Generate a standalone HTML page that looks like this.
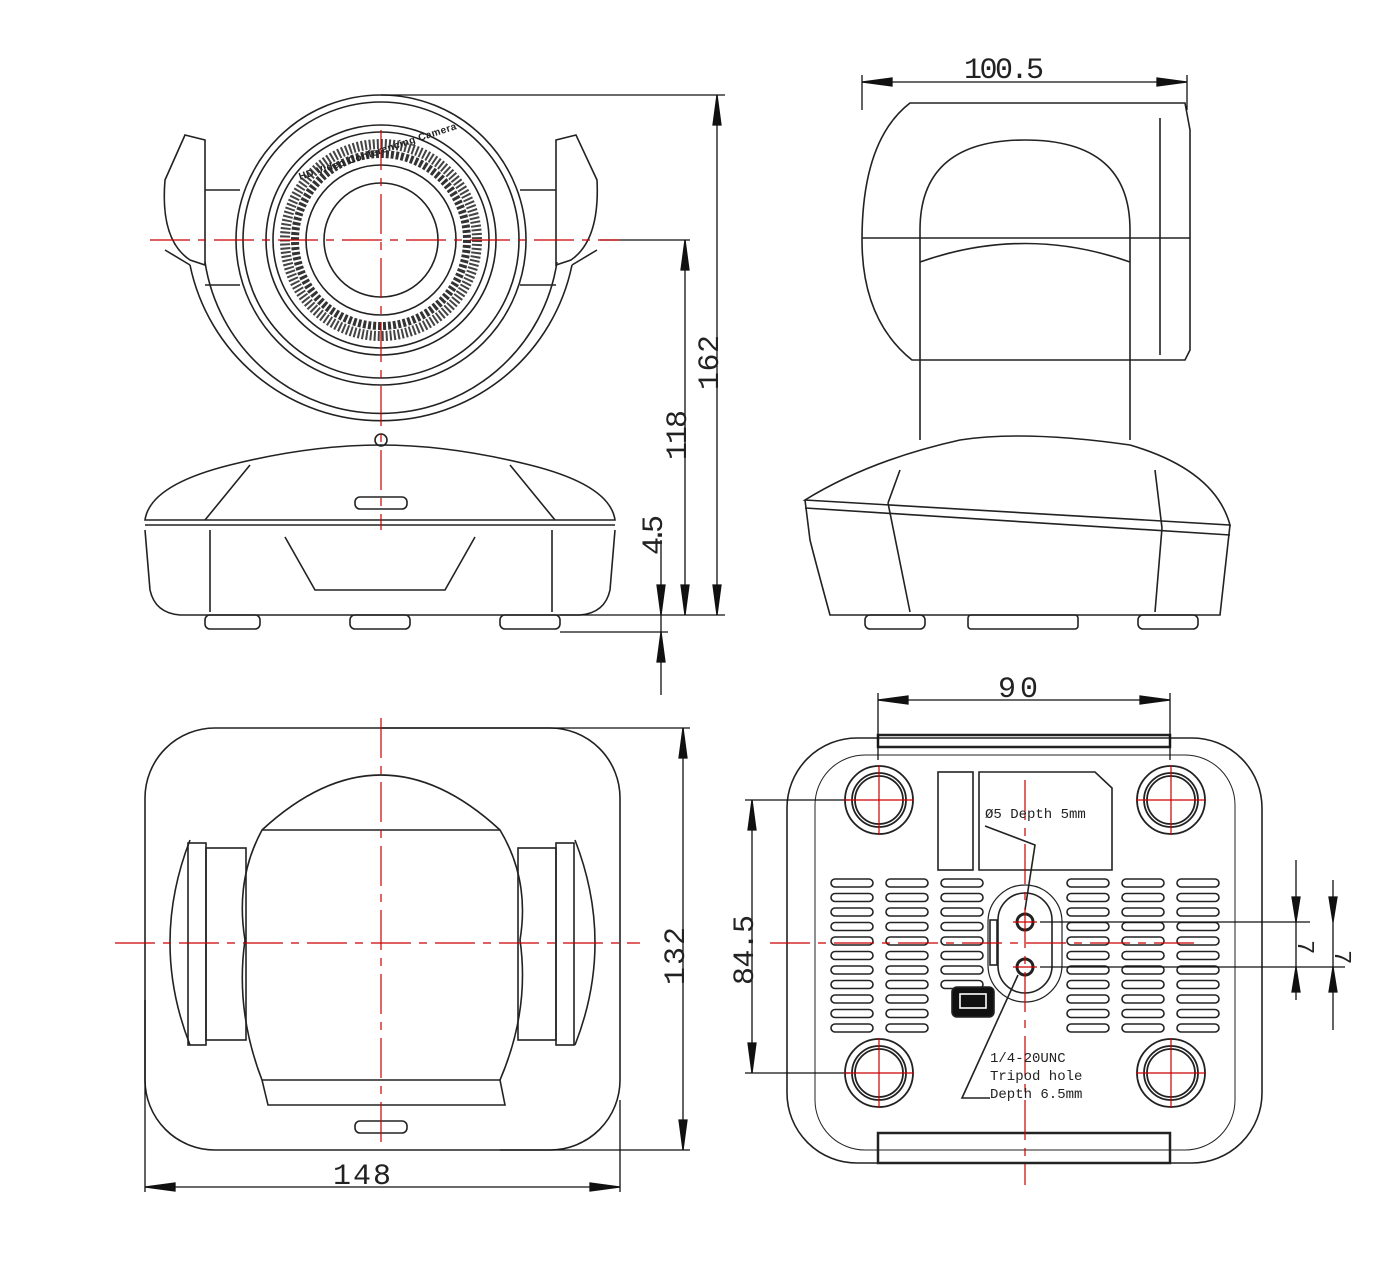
<!DOCTYPE html>
<html><head><meta charset="utf-8"><style>html,body{margin:0;padding:0;background:#fff}svg{display:block}</style></head><body>
<svg width="1376" height="1263" viewBox="0 0 1376 1263" xmlns="http://www.w3.org/2000/svg" font-family="Liberation Mono, monospace">
<defs>
<pattern id="slots" x="0" y="877" width="100" height="14.5" patternUnits="userSpaceOnUse">
<rect x="1" y="2" width="42" height="8" rx="4" fill="none" stroke="#222" stroke-width="1.6"/>
</pattern>
</defs>
<g fill="none" stroke="#222" stroke-width="1.6">
<!-- FRONT VIEW -->
<circle cx="381" cy="240" r="145"/>
<circle cx="381" cy="240" r="138"/>
<circle cx="381" cy="240" r="115"/>
<circle cx="381" cy="240" r="108"/>
<circle cx="381" cy="240" r="96" stroke="#444" stroke-width="10" stroke-dasharray="2 2"/>
<circle cx="381" cy="240" r="86" stroke="#333" stroke-width="8" stroke-dasharray="3 2"/>
<circle cx="381" cy="240" r="75"/>
<circle cx="381" cy="240" r="57"/>
<path d="M190 265 A195 195 0 0 0 572 265"/>
<path d="M205 262 A178 178 0 0 0 557 262"/>
<path d="M185 135 L205 140 L205 265 L190 260 Q160 240 165 180 Z"/>
<path d="M576 135 L556 140 L556 265 L571 260 Q600 240 597 180 Z"/>
<path d="M165 250 L190 265 M597 250 L572 265"/>
<line x1="205" y1="190" x2="240" y2="190"/><line x1="520" y1="190" x2="556" y2="190"/>
<line x1="205" y1="285" x2="240" y2="285"/><line x1="520" y1="285" x2="556" y2="285"/>
<circle cx="381" cy="440" r="6"/>
<path d="M145 520 Q150 485 230 465 Q310 445 381 445 Q450 445 530 465 Q610 485 615 520 Z"/>
<line x1="145" y1="525" x2="615" y2="525"/>
<path d="M205 520 L250 465 M555 520 L510 465"/>
<rect x="355" y="497" width="52" height="12" rx="5"/>
<path d="M145 530 L150 590 Q155 613 180 615 L580 615 Q605 613 610 590 L615 530"/>
<path d="M210 530 L210 612 M552 530 L552 612"/>
<path d="M285 537 L315 590 L445 590 L475 537"/>
<rect x="205" y="615" width="55" height="14" rx="5"/><rect x="350" y="615" width="60" height="14" rx="5"/><rect x="500" y="615" width="60" height="14" rx="5"/>
<!-- SIDE VIEW -->
<path d="M910 103 L1185 103 L1190 130 L1190 350 L1185 360 L912 360 Q862 320 862 240 Q862 140 910 103 Z"/>
<line x1="862" y1="238" x2="1190" y2="238"/>
<line x1="1160" y1="118" x2="1160" y2="355"/>
<path d="M920 440 L920 230 Q920 140 1025 140 Q1130 140 1130 230 L1130 440"/>
<path d="M920 262 Q1025 225 1130 262"/>
<path d="M805 500 Q870 460 960 440 Q1025 430 1130 445 Q1215 470 1230 525 Z"/>
<path d="M805 508 L1230 535"/>
<path d="M805 500 L810 540 Q815 560 830 615 L1220 615 L1230 525"/>
<path d="M888 503 L900 470 M888 503 L910 612 M1162 528 L1155 470 M1162 528 L1155 612"/>
<rect x="865" y="615" width="60" height="14" rx="5"/><rect x="968" y="615" width="110" height="14" rx="3"/><rect x="1138" y="615" width="60" height="14" rx="5"/>
<!-- TOP VIEW -->
<rect x="145" y="728" width="475" height="422" rx="70"/>
<path d="M190 840 Q150 943 190 1045 M575 840 Q615 943 575 1045"/>
<rect x="188" y="843" width="18" height="202"/><rect x="556" y="843" width="18" height="202"/>
<rect x="206" y="848" width="40" height="192"/><rect x="518" y="848" width="38" height="192"/>
<path d="M262 830 Q381 720 500 830 Q530 880 520 940 Q530 1010 500 1080 L505 1105 L268 1105 L262 1080 Q235 1010 245 940 Q235 880 262 830 Z"/>
<line x1="262" y1="830" x2="500" y2="830"/><line x1="262" y1="1080" x2="500" y2="1080"/>
<rect x="355" y="1121" width="52" height="12" rx="5"/>
<!-- BOTTOM VIEW -->
<rect x="787" y="738" width="475" height="425" rx="70"/>
<rect x="815" y="755" width="420" height="395" rx="50" stroke-width="1"/>
<rect x="878" y="735" width="292" height="12" stroke-width="2.5"/>
<rect x="878" y="1133" width="292" height="30" stroke-width="2.5"/>
<g stroke-width="1.8">
<circle cx="879" cy="800" r="34"/><circle cx="879" cy="800" r="27"/><circle cx="879" cy="800" r="24"/>
<circle cx="1171" cy="800" r="34"/><circle cx="1171" cy="800" r="27"/><circle cx="1171" cy="800" r="24"/>
<circle cx="879" cy="1073" r="34"/><circle cx="879" cy="1073" r="27"/><circle cx="879" cy="1073" r="24"/>
<circle cx="1171" cy="1073" r="34"/><circle cx="1171" cy="1073" r="27"/><circle cx="1171" cy="1073" r="24"/>
</g>
<rect x="938" y="772" width="35" height="98"/>
<path d="M979 772 L1095 772 L1112 788 L1112 870 L979 870 Z"/>
<rect transform="translate(830 0)" x="0" y="877" width="46" height="160" fill="url(#slots)" stroke="none"/>
<rect transform="translate(885 0)" x="0" y="877" width="46" height="160" fill="url(#slots)" stroke="none"/>
<rect transform="translate(940 0)" x="0" y="877" width="46" height="116" fill="url(#slots)" stroke="none"/>
<rect transform="translate(1066 0)" x="0" y="877" width="46" height="160" fill="url(#slots)" stroke="none"/>
<rect transform="translate(1121 0)" x="0" y="877" width="46" height="160" fill="url(#slots)" stroke="none"/>
<rect transform="translate(1176 0)" x="0" y="877" width="46" height="160" fill="url(#slots)" stroke="none"/>
<rect x="988" y="885" width="74" height="117" rx="37" fill="#fff" stroke-width="1.2"/>
<rect x="998" y="893" width="54" height="100" rx="27"/>
<rect x="990" y="920" width="7" height="45"/>
<circle cx="1025" cy="922" r="8" stroke-width="3"/><circle cx="1025" cy="967" r="8" stroke-width="3"/>
<rect x="952" y="987" width="42" height="30" rx="5" fill="#111"/>
<rect x="960" y="994" width="26" height="14" stroke="#fff"/>
<path d="M985 826 L1035 845 L1025 910 M1018 975 L962 1098 L990 1098"/>
</g>
<!-- dimensions -->
<g stroke="#111" stroke-width="1.3" fill="#111">
<line x1="381" y1="95" x2="725" y2="95"/><line x1="717" y1="95" x2="717" y2="615"/><line x1="560" y1="615" x2="725" y2="615"/>
<path d="M717 95 l-4 30 l8 0 Z M717 615 l-4 -30 l8 0 Z"/>
<line x1="600" y1="240" x2="690" y2="240"/><line x1="685" y1="240" x2="685" y2="615"/>
<path d="M685 240 l-4 30 l8 0 Z M685 615 l-4 -30 l8 0 Z"/>
<line x1="560" y1="632" x2="668" y2="632"/><line x1="661" y1="540" x2="661" y2="695"/>
<path d="M661 615 l-4 -30 l8 0 Z M661 632 l-4 30 l8 0 Z"/>
<line x1="862" y1="82" x2="1187" y2="82"/><line x1="862" y1="75" x2="862" y2="110"/><line x1="1187" y1="75" x2="1187" y2="110"/>
<path d="M862 82 l30 -4 l0 8 Z M1187 82 l-30 -4 l0 8 Z"/>
<line x1="878" y1="700" x2="1170" y2="700"/><line x1="878" y1="693" x2="878" y2="760"/><line x1="1170" y1="693" x2="1170" y2="760"/>
<path d="M878 700 l30 -4 l0 8 Z M1170 700 l-30 -4 l0 8 Z"/>
<line x1="381" y1="728" x2="690" y2="728"/><line x1="683" y1="728" x2="683" y2="1150"/><line x1="500" y1="1150" x2="690" y2="1150"/>
<path d="M683 728 l-4 30 l8 0 Z M683 1150 l-4 -30 l8 0 Z"/>
<line x1="145" y1="1000" x2="145" y2="1192"/><line x1="620" y1="1100" x2="620" y2="1192"/><line x1="145" y1="1187" x2="620" y2="1187"/>
<path d="M145 1187 l30 -4 l0 8 Z M620 1187 l-30 -4 l0 8 Z"/>
<line x1="745" y1="800" x2="850" y2="800"/><line x1="745" y1="1073" x2="850" y2="1073"/><line x1="752" y1="800" x2="752" y2="1073"/>
<path d="M752 800 l-4 30 l8 0 Z M752 1073 l-4 -30 l8 0 Z"/>
<line x1="1040" y1="922" x2="1310" y2="922"/><line x1="1040" y1="967" x2="1345" y2="967"/>
<line x1="1296" y1="860" x2="1296" y2="1000"/><line x1="1333" y1="880" x2="1333" y2="1030"/>
<path d="M1296 922 l-4 -25 l8 0 Z M1296 967 l-4 25 l8 0 Z M1333 922 l-4 -25 l8 0 Z M1333 967 l-4 25 l8 0 Z"/>
</g>
<!-- red centerlines -->
<g stroke="#c00" stroke-width="1.2" stroke-dasharray="40 8 8 8">
<line x1="150" y1="240" x2="620" y2="240"/><line x1="381" y1="130" x2="381" y2="530"/>
<line x1="115" y1="943" x2="640" y2="943"/><line x1="381" y1="718" x2="381" y2="1150"/>
<line x1="770" y1="943" x2="1195" y2="943"/><line x1="1025" y1="780" x2="1025" y2="1185"/>
</g>
<g stroke="#c00" stroke-width="1.2">
<path d="M844 800 h70 M879 765 v70 M1136 800 h70 M1171 765 v70 M844 1073 h70 M879 1038 v70 M1136 1073 h70 M1171 1038 v70 M1013 922 h24 M1013 967 h24"/>
</g>
<!-- text -->
<g fill="#222" font-size="30">
<text x="964" y="78" textLength="80">100.5</text>
<text x="998" y="697" textLength="40">90</text>
<text x="333" y="1184" textLength="58">148</text>
<text transform="translate(718 390) rotate(-90)" textLength="55">162</text>
<text transform="translate(686 460) rotate(-90)" textLength="50">118</text>
<text transform="translate(662 555) rotate(-90)" textLength="40">4.5</text>
<text transform="translate(684 985) rotate(-90)" textLength="58">132</text>
<text transform="translate(753 985) rotate(-90)" textLength="70">84.5</text>
<text transform="translate(1298 940) rotate(90)" font-size="24">7</text>
<text transform="translate(1335 950) rotate(90)" font-size="24">7</text>
</g>
<g fill="#222" font-size="14">
<text x="985" y="818">Ø5 Depth 5mm</text>
<text x="990" y="1062">1/4-20UNC</text>
<text x="990" y="1080">Tripod hole</text>
<text x="990" y="1098">Depth 6.5mm</text>
</g>
<text x="300" y="180" font-size="10" fill="#222" font-family="Liberation Sans, sans-serif" transform="rotate(-18 300 180)" font-weight="bold" textLength="165">HD Video Conferencing Camera</text>
</svg>
</body></html>
